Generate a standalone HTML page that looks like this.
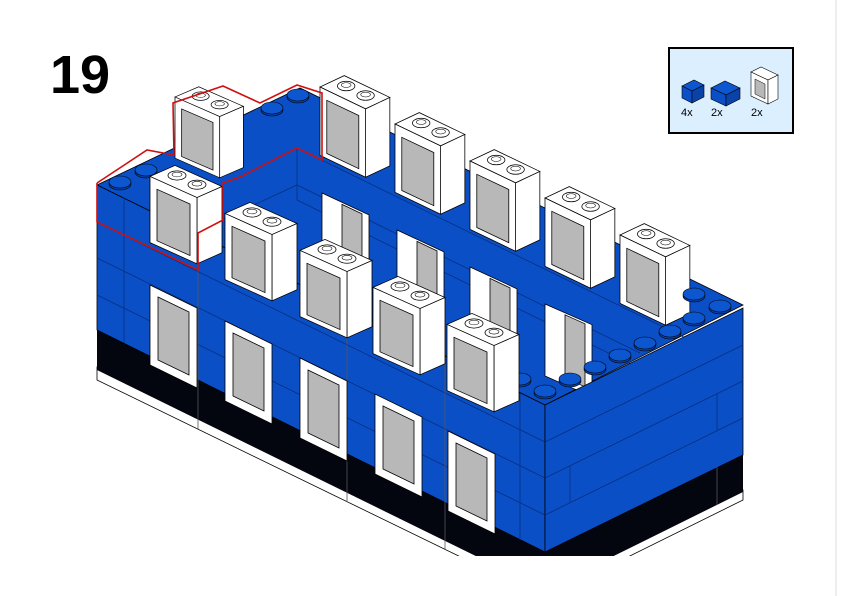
<!DOCTYPE html>
<html><head><meta charset="utf-8"><style>
html,body{margin:0;padding:0;background:#fff;}
svg{display:block}
</style></head><body>
<svg width="842" height="596" viewBox="0 0 842 596" xmlns="http://www.w3.org/2000/svg">
<defs>
<clipPath id="c"><rect x="0" y="0" width="842" height="556"/></clipPath>
<g id="fw">
 <polygon points="0,0 47,23 47,103 0,80" fill="#fff" stroke="#000" stroke-width="0.8"/>
 <polygon points="8,12 39,27 39,90 8,75" fill="#b8b8b8" stroke="#000" stroke-width="0.8"/>
</g>
<g id="iw">
 <polygon points="0,0 47,23 47,103 0,80" fill="#fff" stroke="#000" stroke-width="0.8"/>
 <polygon points="20,12 40,22 40,92 20,82" fill="#b8b8b8" stroke="#000" stroke-width="0.8"/>
</g>
<g id="uw">
 <polygon points="0,20 47,43 72,31 25,8" fill="#fff" stroke="#000" stroke-width="0.8"/>
 <polygon points="47,43 72,31 72,103 47,115" fill="#fff" stroke="#000" stroke-width="0.8"/>
 <polygon points="0,20 47,43 47,115 0,92" fill="#fff" stroke="#000" stroke-width="0.8"/>
 <polygon points="7,34 40,50 40,106 7,90" fill="#b8b8b8" stroke="#000" stroke-width="0.8"/>
 <ellipse cx="27" cy="19" rx="9" ry="5" fill="#fff" stroke="#000" stroke-width="0.8"/>
 <ellipse cx="27" cy="18" rx="5" ry="2.5" fill="none" stroke="#000" stroke-width="0.6"/>
 <ellipse cx="47" cy="29" rx="9" ry="5" fill="#fff" stroke="#000" stroke-width="0.8"/>
 <ellipse cx="47" cy="28" rx="5" ry="2.5" fill="none" stroke="#000" stroke-width="0.6"/>
</g>
<g id="st"><ellipse cx="0" cy="2" rx="11" ry="6" fill="#0a3fa8" stroke="#000" stroke-width="0.6"/><ellipse cx="0" cy="0" rx="11" ry="6" fill="#0c56d0" stroke="#000" stroke-width="0.6"/></g>
</defs>
<text x="50" y="93" font-family="Liberation Sans, sans-serif" font-weight="bold" font-size="54">19</text>
<line x1="836" y1="0" x2="836" y2="596" stroke="#ddd" stroke-width="1"/>

<g clip-path="url(#c)">
 <polygon points="97,367 545,587 743,490 743,500 545,598 97,380" fill="#fff" stroke="#000" stroke-width="0.8"/>
 <polygon points="97,330 545,550 545,590 97,370" fill="#03060f"/>
 <polygon points="545,552 743,455 743,492 545,590" fill="#03060f"/>
 <polygon points="97,185 300,88 743,305 545,405" fill="#0b4fc6" stroke="#000" stroke-width="0.8"/>
 <polyline points="297,148 297,200 700,398" fill="none" stroke="#072f80" stroke-width="0.8"/>
 <polyline points="297,148 700,345" fill="none" stroke="#072f80" stroke-width="0.8"/>
 <polyline points="200,230 297,185 640,353" fill="none" stroke="#072f80" stroke-width="0.8"/>
 <use href="#iw" transform="translate(322,193) scale(1,0.95)"/>
 <use href="#iw" transform="translate(397,230) scale(1,0.95)"/>
 <use href="#iw" transform="translate(470,267) scale(1,0.95)"/>
 <use href="#iw" transform="translate(545,304) scale(1,0.9)"/>
 <use href="#uw" transform="translate(320,68) scale(0.97,0.95)"/>
 <use href="#uw" transform="translate(395,105) scale(0.97,0.95)"/>
 <use href="#uw" transform="translate(470,142) scale(0.97,0.95)"/>
 <use href="#uw" transform="translate(545,179) scale(0.97,0.95)"/>
 <use href="#uw" transform="translate(620,216) scale(0.97,0.95)"/>
 <use href="#uw" transform="translate(175,80) scale(0.95,0.85)"/>
 <use href="#st" x="298" y="95"/><use href="#st" x="272" y="108"/><use href="#st" x="120" y="182"/><use href="#st" x="146" y="170"/>
 <polygon points="97,185 545,405 545,552 97,330" fill="#0b4fc6" stroke="#000" stroke-width="0.8"/>
 <line x1="97" y1="258" x2="545" y2="478" stroke="#072f80" stroke-width="0.8"/>
 <line x1="97" y1="295" x2="545" y2="515" stroke="#072f80" stroke-width="0.8"/>
 <line x1="97" y1="222" x2="545" y2="442" stroke="#072f80" stroke-width="0.8"/>
 <line x1="124" y1="198" x2="124" y2="343" stroke="#072f80" stroke-width="0.8"/>
 <line x1="198" y1="235" x2="198" y2="429" stroke="#555" stroke-width="0.8"/>
 <line x1="347" y1="308" x2="347" y2="502" stroke="#555" stroke-width="0.8"/>
 <line x1="445" y1="356" x2="445" y2="550" stroke="#555" stroke-width="0.8"/>
 <line x1="520" y1="393" x2="520" y2="540" stroke="#072f80" stroke-width="0.8"/>
 <polygon points="545,405 743,308 743,455 545,552" fill="#0b4fc6" stroke="#000" stroke-width="0.8"/>
 <line x1="545" y1="442" x2="743" y2="345" stroke="#072f80" stroke-width="0.8"/>
 <line x1="545" y1="478" x2="743" y2="381" stroke="#072f80" stroke-width="0.8"/>
 <line x1="545" y1="515" x2="743" y2="418" stroke="#072f80" stroke-width="0.8"/>
 <line x1="717" y1="394" x2="717" y2="430" stroke="#072f80" stroke-width="0.8"/>
 <line x1="570" y1="466" x2="570" y2="502" stroke="#072f80" stroke-width="0.8"/>
 <line x1="717" y1="467" x2="717" y2="505" stroke="#555" stroke-width="0.8"/>
 <use href="#st" x="545" y="391"/><use href="#st" x="520" y="379"/><use href="#st" x="570" y="379"/><use href="#st" x="595" y="367"/>
 <use href="#st" x="620" y="355"/><use href="#st" x="645" y="343"/><use href="#st" x="670" y="331"/><use href="#st" x="694" y="318"/>
 <use href="#st" x="720" y="306"/><use href="#st" x="694" y="294"/>
 <use href="#fw" transform="translate(150,285)"/>
 <use href="#fw" transform="translate(225,321)"/>
 <use href="#fw" transform="translate(300,358)"/>
 <use href="#fw" transform="translate(375,394)"/>
 <use href="#fw" transform="translate(448,431)"/>
 <use href="#uw" transform="translate(150,158) scale(1,0.92)"/>
 <use href="#uw" transform="translate(225,195) scale(1,0.92)"/>
 <use href="#uw" transform="translate(300,232) scale(1,0.92)"/>
 <use href="#uw" transform="translate(373,269) scale(1,0.92)"/>
 <use href="#uw" transform="translate(447,306) scale(1,0.92)"/>
 <polyline points="97,183 97,222 198,270 198,233 223,220 223,183 240,177 297,148 322,160 322,93 297,85 260,103 247,97 223,86 173,103 174,155 147,150 97,183" fill="none" stroke="#d01010" stroke-width="1.6"/>
</g>

<rect x="669" y="48" width="124" height="85" fill="#dcefff" stroke="#000" stroke-width="2"/>
<polygon points="682,86 692,91 704,85 694,80" fill="#0c56d0" stroke="#000" stroke-width="0.6"/>
<polygon points="682,86 692,91 692,103 682,98" fill="#0b4fc6" stroke="#000" stroke-width="0.6"/>
<polygon points="692,91 704,85 704,97 692,103" fill="#0a42a8" stroke="#000" stroke-width="0.6"/>
<polygon points="711,88 726,95 740,88 725,81" fill="#0c56d0" stroke="#000" stroke-width="0.6"/>
<polygon points="711,88 726,95 726,106 711,99" fill="#0b4fc6" stroke="#000" stroke-width="0.6"/>
<polygon points="726,95 740,88 740,99 726,106" fill="#0a42a8" stroke="#000" stroke-width="0.6"/>
<polygon points="751,72 768,80 778,75 761,67" fill="#fff" stroke="#000" stroke-width="0.6"/>
<polygon points="751,72 768,80 768,104 751,96" fill="#fff" stroke="#000" stroke-width="0.6"/>
<polygon points="768,80 778,75 778,99 768,104" fill="#fff" stroke="#000" stroke-width="0.6"/>
<polygon points="755,79 765,84 765,99 755,94" fill="#b8b8b8" stroke="#000" stroke-width="0.5"/>
<text x="681" y="116" font-family="Liberation Sans, sans-serif" font-size="11">4x</text>
<text x="711" y="116" font-family="Liberation Sans, sans-serif" font-size="11">2x</text>
<text x="751" y="116" font-family="Liberation Sans, sans-serif" font-size="11">2x</text>
</svg>
</body></html>
